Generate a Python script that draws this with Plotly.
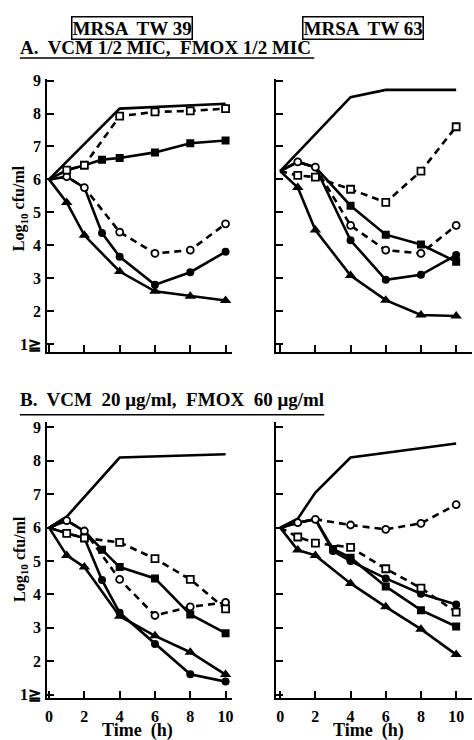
import plotly.graph_objects as go

# ---------------- data ----------------
TIME_TICKS = [0, 2, 4, 6, 8, 10]
Y_TICKS = [1, 2, 3, 4, 5, 6, 7, 8, 9]
Y_TICKTEXT = ["1≧", "2", "3", "4", "5", "6", "7", "8", "9"]

HEADER_LEFT = "MRSA  TW 39"
HEADER_RIGHT = "MRSA  TW 63"
TITLE_A = "A.  VCM 1/2 MIC,  FMOX 1/2 MIC"
TITLE_B = "B.  VCM  20 μg/ml,  FMOX  60 μg/ml"
Y_TITLE = "Log<sub>10</sub> cfu/ml"
X_TITLE = "Time  (h)"

# Panel A, TW39
A39_ctrl_t = [0, 4, 10]
A39_ctrl_v = [6.0, 8.15, 8.3]
A39_oc_t = [0, 1, 2, 4, 6, 8, 10]
A39_oc_v = [6.0, 6.08, 5.75, 4.4, 3.75, 3.85, 4.65]
A39_os_t = [0, 1, 2, 4, 6, 8, 10]
A39_os_v = [6.0, 6.28, 6.43, 7.92, 8.05, 8.08, 8.15]
A39_fc_t = [3, 4, 6, 8, 10]
A39_fc_v = [4.37, 3.65, 2.8, 3.18, 3.8]
A39_fs_t = [3, 4, 6, 8, 10]
A39_fs_v = [6.6, 6.65, 6.82, 7.1, 7.18]
A39_tr_t = [0, 1, 2, 4, 6, 8, 10]
A39_tr_v = [6.0, 5.3, 4.3, 3.2, 2.6, 2.45, 2.32]

# Panel A, TW63
A63_ctrl_t = [0, 4, 6, 10]
A63_ctrl_v = [6.25, 8.5, 8.72, 8.72]
A63_oc_t = [0, 1, 2, 4, 6, 8, 10]
A63_oc_v = [6.25, 6.53, 6.37, 4.6, 3.85, 3.75, 4.6]
A63_os_t = [0, 1, 2, 4, 6, 8, 10]
A63_os_v = [6.25, 6.12, 6.07, 5.7, 5.3, 6.25, 7.6]
A63_fc_t = [4, 6, 8, 10]
A63_fc_v = [4.15, 2.95, 3.1, 3.7]
A63_fs_t = [4, 6, 8, 10]
A63_fs_v = [5.2, 4.32, 4.02, 3.5]
A63_tr_t = [0, 1, 2, 4, 6, 8, 10]
A63_tr_v = [6.25, 5.75, 4.46, 3.08, 2.33, 1.88, 1.85]

# Panel B, TW39
B39_ctrl_t = [0, 1, 4, 10]
B39_ctrl_v = [6.0, 6.33, 8.1, 8.2]
B39_oc_t = [0, 1, 2, 4, 6, 8, 10]
B39_oc_v = [6.0, 6.21, 5.9, 4.45, 3.37, 3.63, 3.76]
B39_os_t = [0, 1, 2, 4, 6, 8, 10]
B39_os_v = [6.0, 5.83, 5.69, 5.56, 5.07, 4.45, 3.57]
B39_fc_t = [3, 4, 6, 8, 10]
B39_fc_v = [4.43, 3.45, 2.52, 1.61, 1.39]
B39_fs_t = [3, 4, 6, 8, 10]
B39_fs_v = [5.34, 4.82, 4.48, 3.4, 2.84]
B39_tr_t = [0, 1, 2, 4, 6, 8, 10]
B39_tr_v = [6.0, 5.17, 4.82, 3.35, 2.76, 2.27, 1.6]

# Panel B, TW63
B63_ctrl_t = [0, 1, 2, 4, 10]
B63_ctrl_v = [6.0, 6.27, 7.05, 8.1, 8.52]
B63_oc_t = [0, 1, 2, 4, 6, 8, 10]
B63_oc_v = [6.0, 6.15, 6.25, 6.08, 5.95, 6.13, 6.69]
B63_os_t = [0, 1, 2, 4, 6, 8, 10]
B63_os_v = [6.0, 5.72, 5.54, 5.41, 4.77, 4.19, 3.47]
B63_fc_t = [3, 4, 6, 8, 10]
B63_fc_v = [5.3, 5.0, 4.48, 4.02, 3.7]
B63_fs_t = [3, 4, 6, 8, 10]
B63_fs_v = [5.36, 5.1, 4.24, 3.53, 3.04]
B63_tr_t = [0, 1, 2, 4, 6, 8, 10]
B63_tr_v = [6.0, 5.33, 5.17, 4.33, 3.63, 2.96, 2.2]

# which open series each filled series branches from
A39_fc_parent, A39_fs_parent = "oc", "os"
A63_fc_parent, A63_fs_parent = "oc", "oc"
B39_fc_parent, B39_fs_parent = "os", "oc"
B63_fc_parent, B63_fs_parent = "oc", "oc"

# ---------------- figure ----------------
W, H = 474, 740
SERIF = "Liberation Serif"
fig = go.Figure()

panels = [
    dict(xa="x", ya="y", ctrl=(A39_ctrl_t, A39_ctrl_v), oc=(A39_oc_t, A39_oc_v), os=(A39_os_t, A39_os_v),
         fc=(A39_fc_t, A39_fc_v), fs=(A39_fs_t, A39_fs_v), tr=(A39_tr_t, A39_tr_v),
         fcp=A39_fc_parent, fsp=A39_fs_parent),
    dict(xa="x2", ya="y2", ctrl=(A63_ctrl_t, A63_ctrl_v), oc=(A63_oc_t, A63_oc_v), os=(A63_os_t, A63_os_v),
         fc=(A63_fc_t, A63_fc_v), fs=(A63_fs_t, A63_fs_v), tr=(A63_tr_t, A63_tr_v),
         fcp=A63_fc_parent, fsp=A63_fs_parent),
    dict(xa="x3", ya="y3", ctrl=(B39_ctrl_t, B39_ctrl_v), oc=(B39_oc_t, B39_oc_v), os=(B39_os_t, B39_os_v),
         fc=(B39_fc_t, B39_fc_v), fs=(B39_fs_t, B39_fs_v), tr=(B39_tr_t, B39_tr_v),
         fcp=B39_fc_parent, fsp=B39_fs_parent),
    dict(xa="x4", ya="y4", ctrl=(B63_ctrl_t, B63_ctrl_v), oc=(B63_oc_t, B63_oc_v), os=(B63_os_t, B63_os_v),
         fc=(B63_fc_t, B63_fc_v), fs=(B63_fs_t, B63_fs_v), tr=(B63_tr_t, B63_tr_v),
         fcp=B63_fc_parent, fsp=B63_fs_parent),
]

LW = 2.6
DASH = "7px,5px"


def branch(parent, own):
    pt, pv = parent
    t, v = own
    k = sum(1 for x in pt if x < t[0])
    return list(pt[:k]) + list(t), list(pv[:k]) + list(v)


for p in panels:
    xa, ya = p["xa"], p["ya"]
    line_solid = dict(color="black", width=LW)
    line_dash = dict(color="black", width=LW, dash=DASH)
    t, v = p["ctrl"]
    fig.add_trace(go.Scatter(x=t, y=v, mode="lines", line=line_solid, xaxis=xa, yaxis=ya, showlegend=False))
    for key, pk in (("fc", "fcp"), ("fs", "fsp")):
        t, v = branch(p[p[pk]], p[key])
        fig.add_trace(go.Scatter(x=t, y=v, mode="lines", line=line_solid, xaxis=xa, yaxis=ya, showlegend=False))
    t, v = p["tr"]
    fig.add_trace(go.Scatter(x=t, y=v, mode="lines", line=line_solid, xaxis=xa, yaxis=ya, showlegend=False))
    for key in ("oc", "os"):
        t, v = p[key]
        fig.add_trace(go.Scatter(x=t, y=v, mode="lines", line=line_dash, xaxis=xa, yaxis=ya, showlegend=False))
    for key, sym, sz in (("fc", "circle", 8), ("fs", "square", 8)):
        t, v = p[key]
        fig.add_trace(go.Scatter(x=t, y=v, mode="markers", xaxis=xa, yaxis=ya, showlegend=False,
                                 marker=dict(symbol=sym, size=sz, color="black", line=dict(width=0))))
    t, v = p["tr"]
    fig.add_trace(go.Scatter(x=t[1:], y=v[1:], mode="markers", xaxis=xa, yaxis=ya, showlegend=False,
                             marker=dict(symbol="triangle-up", size=10, color="black", line=dict(width=0))))
    for key, sym, sz in (("oc", "circle", 7), ("os", "square", 7)):
        t, v = p[key]
        fig.add_trace(go.Scatter(x=t[1:], y=v[1:], mode="markers", xaxis=xa, yaxis=ya, showlegend=False,
                                 marker=dict(symbol=sym, size=sz, color="white",
                                             line=dict(color="black", width=1.8))))

tickfont = dict(family=SERIF, size=16, color="black", weight="bold")


def xaxis(domain, rng, labels, anchor):
    return dict(domain=domain, range=rng, anchor=anchor, showgrid=False, zeroline=False,
                showline=True, linecolor="black", linewidth=2, ticks="inside", ticklen=7,
                tickwidth=2, tickcolor="black", tickvals=TIME_TICKS, showticklabels=labels,
                tickfont=tickfont, ticklabelstandoff=3)


def yaxis(domain, rng, labels, anchor):
    return dict(domain=domain, range=rng, anchor=anchor, showgrid=False, zeroline=False,
                showline=True, linecolor="black", linewidth=2, ticks="inside", ticklen=7,
                tickwidth=2, tickcolor="black", tickvals=Y_TICKS, ticktext=Y_TICKTEXT,
                showticklabels=labels, tickfont=tickfont, ticklabelstandoff=1)


XL = [45.7 / W, 231.7 / W]
XR = [276.1 / W, 1.0]
YT = [1 - 351 / H, 1 - 73.3 / H]
YB = [1 - 703 / H, 1 - 422.9 / H]
RXL = [-0.1, 10.35]
RXR = [-0.25, 10.9]
RYT = [0.76, 9.05]
RYB = [0.91, 9.15]

fig.update_layout(
    width=W, height=H, autosize=False,
    margin=dict(l=0, r=0, t=0, b=0),
    paper_bgcolor="white", plot_bgcolor="white",
    font=dict(family=SERIF, color="black"),
    xaxis=xaxis(XL, RXL, False, "y"),
    yaxis=yaxis(YT, RYT, True, "x"),
    xaxis2=xaxis(XR, RXR, False, "y2"),
    yaxis2=yaxis(YT, RYT, False, "x2"),
    xaxis3=xaxis(XL, RXL, True, "y3"),
    yaxis3=yaxis(YB, RYB, True, "x3"),
    xaxis4=xaxis(XR, RXR, True, "y4"),
    yaxis4=yaxis(YB, RYB, False, "x4"),
)

hdr_font = dict(family=SERIF, size=19, color="black", weight="bold")
lab_font = dict(family=SERIF, size=18, color="black", weight="bold")
ytitle_font = dict(family=SERIF, size=16, color="black", weight="bold")

fig.add_annotation(x=131 / W, y=1 - 21 / H, xref="paper", yref="paper", text=HEADER_LEFT,
                   showarrow=False, font=hdr_font, bordercolor="black", borderwidth=1.5, borderpad=0,
                   xanchor="center", yanchor="middle")
fig.add_annotation(x=364 / W, y=1 - 21 / H, xref="paper", yref="paper", text=HEADER_RIGHT,
                   showarrow=False, font=hdr_font, bordercolor="black", borderwidth=1.5, borderpad=0,
                   xanchor="center", yanchor="middle")
fig.add_annotation(x=16 / W, y=1 - 41 / H, xref="paper", yref="paper", text=TITLE_A,
                   showarrow=False, font=hdr_font, xanchor="left", yanchor="middle")
fig.add_annotation(x=16 / W, y=1 - 400 / H, xref="paper", yref="paper", text=TITLE_B,
                   showarrow=False, font=hdr_font, xanchor="left", yanchor="middle")
fig.add_shape(type="line", xref="paper", yref="paper", x0=18 / W, x1=315 / W,
              y0=1 - 52 / H, y1=1 - 52 / H, line=dict(color="black", width=1.5))
fig.add_shape(type="line", xref="paper", yref="paper", x0=18 / W, x1=325 / W,
              y0=1 - 415 / H, y1=1 - 415 / H, line=dict(color="black", width=1.5))

# y-axis titles (left panels) and x-axis titles (bottom panels)
for yc in (205, 562):
    fig.add_annotation(x=18 / W, y=1 - yc / H, xref="paper", yref="paper", text=Y_TITLE,
                       showarrow=False, font=ytitle_font, textangle=-90,
                       xanchor="center", yanchor="middle")
for xc in (137, 370):
    fig.add_annotation(x=xc / W, y=0, xref="paper", yref="paper", text=X_TITLE,
                       showarrow=False, font=lab_font, xanchor="center", yanchor="bottom",
                       borderpad=0, yshift=-8)

fig.write_html("out.html")
